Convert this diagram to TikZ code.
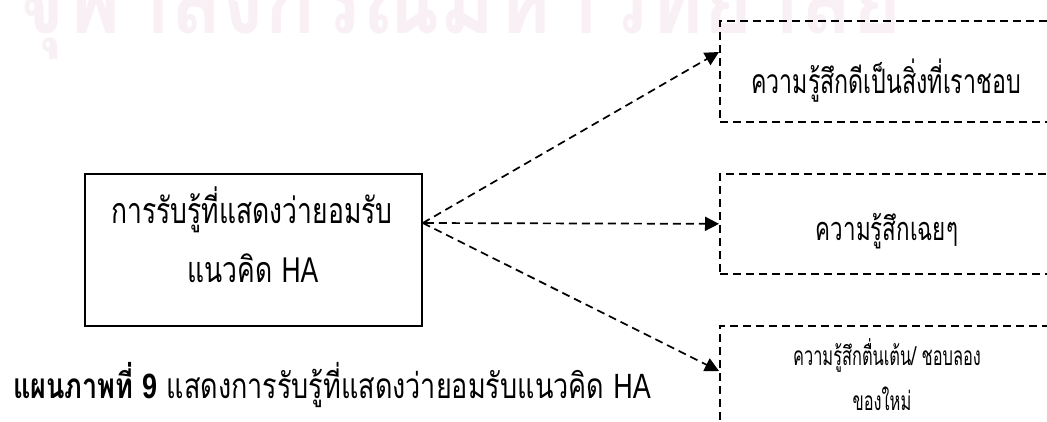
\documentclass[tikz,border=0pt]{standalone}
\usepackage{fontspec}
\setmainfont{Liberation Sans}
\newfontfamily\thai[Script=Thai]{Loma}
\newfontfamily\lat{Liberation Sans}
\usetikzlibrary{arrows.meta,calc}
\definecolor{wm}{RGB}{249,240,246}
\newcommand{\vs}[2]{\scalebox{1}[#1]{#2}}
\begin{document}
\begin{tikzpicture}[x=1pt,y=-1pt,
  mainbox/.style={draw=black,line width=1.8pt,anchor=north west,inner sep=0pt},
  dbox/.style={draw=black,line width=1.7pt,dash pattern=on 8pt off 5pt,anchor=north west,inner sep=0pt},
  conn/.style={line width=1.7pt,dash pattern=on 8pt off 5pt,-{Triangle[length=14pt,width=14pt]}},
  txt/.style={inner sep=0pt,anchor=base},
  wmstyle/.style={inner sep=0pt,text=wm,font=\fontsize{100}{110}\selectfont\thai\bfseries}]
\useasboundingbox (0,0) rectangle (1047,421);
\clip (0,0) rectangle (1047,421);
\node[wmstyle,anchor=base west] (wm) at (15,33) {\resizebox{887pt}{\height}{จุฬาลงกรณ์มหาวิทยาลัย}};
% main box
\node[mainbox,minimum width=337pt,minimum height=152pt] (m) at (84,173) {};
\node[txt,font=\fontsize{26.5}{30}\selectfont\thai] (m1) at (252,223) {\vs{1.35}{การรับรู้ที่แสดงว่ายอมรับ}};
\node[txt,font=\fontsize{26.5}{30}\selectfont\thai] (m2) at (253,282) {\vs{1.35}{แนวคิด {\lat HA}}};
% right boxes
\node[dbox,minimum width=334pt,minimum height=101pt] (b1) at (719,20) {};
\node[dbox,minimum width=334pt,minimum height=100pt] (b2) at (719,173) {};
\node[dbox,minimum width=334pt,minimum height=130pt] (b3) at (719,325) {};
\node[txt,font=\fontsize{23.2}{27}\selectfont\thai] (t1) at (886,93) {\vs{1.45}{ความรู้สึกดีเป็นสิ่งที่เราชอบ}};
\node[txt,font=\fontsize{22.4}{26}\selectfont\thai] (t2) at (887,240) {\vs{1.45}{ความรู้สึกเฉยๆ}};
\node[txt,font=\fontsize{16.4}{20}\selectfont\thai] (t3a) at (887,365) {\vs{1.6}{ความรู้สึกตื่นเต้น/ ชอบลอง}};
\node[txt,font=\fontsize{16.4}{20}\selectfont\thai] (t3b) at (882,410) {\vs{1.6}{ของใหม่}};
% connectors
\coordinate (s) at ([yshift=-50pt]m.north east);
\coordinate (e1) at ([yshift=-32pt]b1.north west);
\coordinate (e3) at ([yshift=-46pt]b3.north west);
\draw[conn] (s) -- (e1);
\draw[conn,{Stealth[length=5pt,width=5pt]}-{Triangle[length=14pt,width=14pt]}] (s) -- (b2.west);
\draw[conn] (s) -- (e3);
% caption
\node[txt,anchor=base west,font=\fontsize{27}{30}\selectfont\thai] (cap) at (13,398) {\vs{1.3}{{\bfseries แผนภาพที่ {\lat 9}} แสดงการรับรู้ที่แสดงว่ายอมรับแนวคิด {\lat HA}}};
\end{tikzpicture}
\end{document}
